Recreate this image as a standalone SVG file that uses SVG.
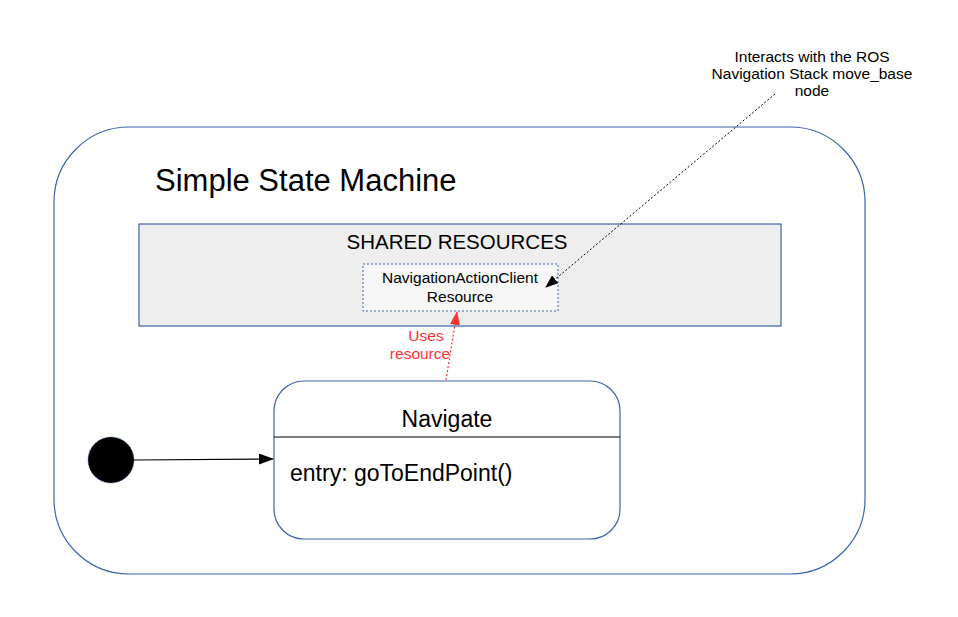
<svg xmlns="http://www.w3.org/2000/svg" width="958" height="617" viewBox="0 0 958 617">
<style>
text{font-family:"Liberation Sans",Arial,sans-serif;fill:#000}
.blue{fill:none;stroke:#3b65a8;stroke-width:1.2}
.anno{font-size:15.5px;text-anchor:middle}
.red{fill:#ff3333;font-size:15.5px;text-anchor:middle}
</style>
<defs>
<marker id="ah" markerWidth="15" markerHeight="11" refX="14" refY="5.5" orient="auto" markerUnits="userSpaceOnUse"><path d="M0,0 L15,5.5 L0,11 z" fill="#000"/></marker>
<marker id="ah2" markerWidth="13" markerHeight="10" refX="12" refY="5" orient="auto" markerUnits="userSpaceOnUse"><path d="M0,0 L13,5 L0,10 z" fill="#000"/></marker>
<marker id="ahr" markerWidth="14" markerHeight="10" refX="13" refY="5" orient="auto" markerUnits="userSpaceOnUse"><path d="M0,0 L14,5 L0,10 z" fill="#ff3333"/></marker>
</defs>
<rect width="958" height="617" fill="#fff"/>
<g id="machine">
<rect x="54" y="127" width="811" height="447" rx="75" ry="75" class="blue"/>
<text x="155" y="191" font-size="31">Simple State Machine</text>
</g>
<g id="shared">
<rect x="139" y="224" width="642" height="102" fill="#eeeeee" stroke="#3b65a8" stroke-width="1.2"/>
<text x="457" y="249" font-size="20.5" text-anchor="middle">SHARED RESOURCES</text>
</g>
<g id="navclient">
<rect x="363" y="264" width="195" height="47" fill="#f6f6f6" stroke="#3b65a8" stroke-width="1" stroke-dasharray="2,2"/>
<text x="460" y="283" font-size="15.5" text-anchor="middle">NavigationActionClient</text>
<text x="460" y="302" font-size="15.5" text-anchor="middle">Resource</text>
</g>
<g id="navigate">
<rect x="274" y="381" width="346" height="158" rx="30" ry="30" fill="#fff" stroke="#3b65a8" stroke-width="1.2"/>
<line x1="274" y1="437" x2="620" y2="437" stroke="#000" stroke-width="1.2"/>
<text x="447" y="427" font-size="23" text-anchor="middle">Navigate</text>
<text x="290" y="481" font-size="23">entry: goToEndPoint()</text>
</g>
<g id="initial">
<circle cx="111" cy="460" r="23" fill="#000" stroke="#3b65a8" stroke-width="0.8" stroke-dasharray="1.5,1.5"/>
</g>
<g id="note">
<text class="anno" x="812" y="62">Interacts with the ROS</text>
<text class="anno" x="812" y="79">Navigation Stack move_base</text>
<text class="anno" x="812" y="96">node</text>
</g>
<g id="connectors">
<line x1="134" y1="460" x2="273" y2="459" stroke="#000" stroke-width="1.2" marker-end="url(#ah)"/>
<line x1="446" y1="380" x2="457" y2="312" stroke="#ff3333" stroke-width="1.2" stroke-dasharray="2,2" marker-end="url(#ahr)"/>
<text class="red" x="426" y="341">Uses</text>
<text class="red" x="420" y="359">resource</text>
<line x1="775" y1="94" x2="546" y2="287" stroke="#000" stroke-width="1" stroke-dasharray="2,2" marker-end="url(#ah2)"/>
</g>
</svg>
